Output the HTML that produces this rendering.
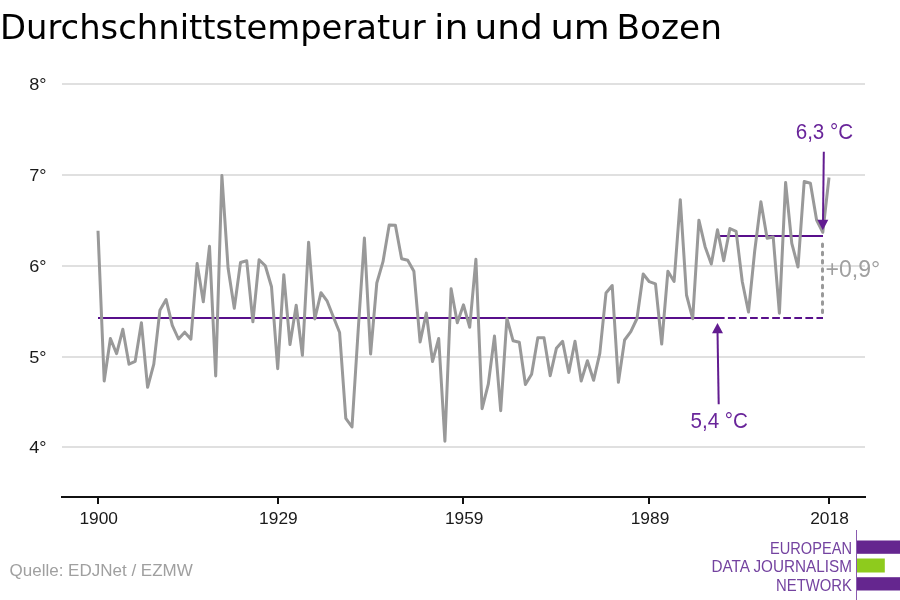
<!DOCTYPE html>
<html lang="de"><head><meta charset="utf-8"><title>Durchschnittstemperatur in und um Bozen</title>
<style>
html,body{margin:0;padding:0;background:#fff;}
body{width:900px;height:600px;position:relative;overflow:hidden;font-family:"Liberation Sans",sans-serif;}
svg{position:absolute;left:0;top:0;will-change:transform;}
text{font-family:"Liberation Sans",sans-serif;}
.title{font-family:"DejaVu Sans","Liberation Sans",sans-serif;font-size:33.5px;fill:#000;}
.yl{font-size:16px;fill:#1a1a1a;}
.xl{font-size:16px;fill:#1a1a1a;text-anchor:middle;}
.an{font-size:22px;fill:#69259a;}
.df{font-size:23px;fill:#a0a0a0;}
.src{font-size:17px;fill:#a0a0a0;}
.lg{font-size:17px;fill:#7443a0;text-anchor:end;}
</style></head><body>
<svg width="900" height="600" viewBox="0 0 900 600">
<text class="title" y="38.5"><tspan x="0" textLength="425.6" lengthAdjust="spacingAndGlyphs">Durchschnittstemperatur</tspan> <tspan x="434" textLength="34.5" lengthAdjust="spacingAndGlyphs">in</tspan> <tspan x="474.5" textLength="68.2" lengthAdjust="spacingAndGlyphs">und</tspan> <tspan x="550.5" textLength="59.3" lengthAdjust="spacingAndGlyphs">um</tspan> <tspan x="616.5" textLength="105.4" lengthAdjust="spacingAndGlyphs">Bozen</tspan></text>
<g stroke="#e0e0e0" stroke-width="2">
<line x1="62" y1="84" x2="865" y2="84"/>
<line x1="62" y1="175" x2="865" y2="175"/>
<line x1="62" y1="266" x2="865" y2="266"/>
<line x1="62" y1="357" x2="865" y2="357"/>
<line x1="62" y1="447" x2="865" y2="447"/>
</g>
<g class="yl">
<text x="29.3" y="90" textLength="17.3" lengthAdjust="spacingAndGlyphs">8°</text>
<text x="29.3" y="181" textLength="17.3" lengthAdjust="spacingAndGlyphs">7°</text>
<text x="29.3" y="272" textLength="17.3" lengthAdjust="spacingAndGlyphs">6°</text>
<text x="29.3" y="363" textLength="17.3" lengthAdjust="spacingAndGlyphs">5°</text>
<text x="29.3" y="453" textLength="17.3" lengthAdjust="spacingAndGlyphs">4°</text>
</g>
<line x1="61" y1="497" x2="866" y2="497" stroke="#111" stroke-width="2"/>
<g stroke="#111" stroke-width="2">
<line x1="98" y1="497" x2="98" y2="504"/>
<line x1="278" y1="497" x2="278" y2="504"/>
<line x1="463" y1="497" x2="463" y2="504"/>
<line x1="649" y1="497" x2="649" y2="504"/>
<line x1="829" y1="497" x2="829" y2="504"/>
</g>
<g class="xl">
<text x="98.7" y="524" textLength="38.6" lengthAdjust="spacingAndGlyphs">1900</text>
<text x="278.4" y="524" textLength="38.6" lengthAdjust="spacingAndGlyphs">1929</text>
<text x="464.2" y="524" textLength="38.6" lengthAdjust="spacingAndGlyphs">1959</text>
<text x="650" y="524" textLength="38.6" lengthAdjust="spacingAndGlyphs">1989</text>
<text x="829.5" y="524" textLength="38.6" lengthAdjust="spacingAndGlyphs">2018</text>
</g>
<g stroke="#580f8b" stroke-width="2" fill="none">
<line x1="98" y1="318" x2="724.6" y2="318"/>
<line x1="727.9" y1="318" x2="823" y2="318" stroke-dasharray="7.7,3.37"/>
<line x1="720" y1="236" x2="823" y2="236"/>
</g>
<polyline fill="none" stroke="#999" stroke-width="3" stroke-linejoin="round" points="98.0,230.8 104.2,381.0 110.4,338.5 116.6,353.7 122.8,329.3 129.0,364.2 135.2,361.3 141.4,322.7 147.6,387.3 153.8,364.2 159.9,310.3 166.1,299.5 172.3,325.3 178.5,339.0 184.7,332.2 190.9,339.2 197.1,263.5 203.3,301.8 209.5,246.3 215.7,376.0 221.9,175.5 228.1,268.3 234.3,308.2 240.5,262.5 246.7,260.7 252.9,321.8 259.1,259.7 265.3,265.8 271.5,286.7 277.7,368.7 283.8,274.7 290.0,344.5 296.2,305.2 302.4,355.3 308.6,242.2 314.8,319.0 321.0,292.7 327.2,301.2 333.4,317.0 339.6,332.5 345.8,418.3 352.0,427.0 358.2,330.0 364.4,238.0 370.6,354.0 376.8,283.0 383.0,261.7 389.2,224.9 395.4,225.3 401.6,258.7 407.7,260.3 413.9,271.3 420.1,342.0 426.3,313.0 432.5,361.5 438.7,338.5 444.9,441.2 451.1,288.8 457.3,322.7 463.5,304.8 469.7,327.3 475.9,259.3 482.1,408.7 488.3,384.2 494.5,336.0 500.7,410.7 506.9,318.5 513.1,340.8 519.3,342.3 525.4,384.5 531.6,374.2 537.8,337.7 544.0,337.7 550.2,375.7 556.4,348.3 562.6,341.3 568.8,372.5 575.0,341.3 581.2,381.0 587.4,360.8 593.6,380.3 599.8,353.3 606.0,293.0 612.2,285.5 618.4,382.3 624.6,340.0 630.8,331.7 637.0,318.5 643.2,274.0 649.3,281.7 655.5,283.8 661.7,344.0 667.9,271.2 674.1,281.5 680.3,199.7 686.5,295.0 692.7,318.7 698.9,220.2 705.1,246.7 711.3,264.0 717.5,229.7 723.7,260.7 729.9,228.5 736.1,231.3 742.3,281.7 748.5,312.0 754.7,251.0 760.9,201.8 767.1,238.3 773.2,237.0 779.4,313.2 785.6,182.5 791.8,243.3 798.0,267.0 804.2,181.5 810.4,183.3 816.6,220.0 822.8,232.3 829.0,177.5"/>
<g stroke="#621c90" stroke-width="2" fill="none">
<line x1="823.8" y1="151.7" x2="823" y2="222"/>
<line x1="718.7" y1="404.2" x2="717.5" y2="331"/>
</g>
<polygon points="822.8,230.2 817.3,219.7 828.3,219.7" fill="#621c90"/>
<polygon points="717.5,322.9 712,333.2 723,333.2" fill="#621c90"/>
<line x1="822.5" y1="244" x2="822.5" y2="313" stroke="#999" stroke-width="3" stroke-linecap="round" stroke-dasharray="2.4,5.85"/>
<text class="an" x="795.7" y="138.7" textLength="57.5" lengthAdjust="spacingAndGlyphs">6,3 °C</text>
<text class="an" x="690.5" y="427.5" textLength="57.5" lengthAdjust="spacingAndGlyphs">5,4 °C</text>
<text class="df" x="825.6" y="276.6" textLength="54.6" lengthAdjust="spacingAndGlyphs">+0,9°</text>
<text class="src" x="9.5" y="575.8">Quelle: EDJNet / EZMW</text>
<line x1="856.5" y1="530" x2="856.5" y2="600" stroke="#8a5bb0" stroke-width="1"/>
<rect x="857" y="540.5" width="43" height="13.3" fill="#65268f"/>
<rect x="857" y="558.5" width="27.8" height="14" fill="#8ecb1d"/>
<rect x="857" y="577.2" width="43" height="13.3" fill="#65268f"/>
<g class="lg">
<text x="852" y="553.7" textLength="82" lengthAdjust="spacingAndGlyphs">EUROPEAN</text>
<text x="852" y="572" textLength="140.5" lengthAdjust="spacingAndGlyphs">DATA JOURNALISM</text>
<text x="852" y="590.7" textLength="76" lengthAdjust="spacingAndGlyphs">NETWORK</text>
</g>
</svg>
</body></html>
